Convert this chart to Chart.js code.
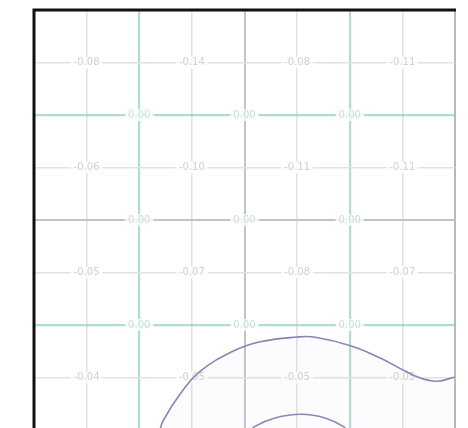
<!DOCTYPE html>
<html>
<head>
<meta charset="utf-8">
<script src="https://cdn.jsdelivr.net/npm/chart.js@4.4.1/dist/chart.umd.min.js"></script>
<style>
  html, body { margin: 0; padding: 0; background: #fff; overflow: hidden; }
  canvas { display: block; }
</style>
</head>
<body>
<canvas id="grid" width="468" height="440"></canvas>
<script>
// grid units along each axis
const xRange = [0, 8];
const yRange = [0, 8];
const tealLines = [2, 6];
const darkLines = [4];

// outer and inner curves (x, y in grid units)
const outerX = [2.38, 2.45, 2.78, 3.16, 3.78, 4.30, 5.00, 5.32, 6.03, 6.58, 6.98, 7.34, 7.66, 8.00];
const outerY = [-0.05, 0.17, 0.69, 1.12, 1.50, 1.68, 1.77, 1.77, 1.60, 1.37, 1.16, 0.99, 0.93, 1.01];
const innerX = [4.10, 4.18, 4.58, 5.08, 5.53, 5.89, 5.96];
const innerY = [-0.05, 0.06, 0.23, 0.30, 0.23, 0.06, -0.05];

// labels sitting on the grid crossings
const oddRows = [7, 5, 3, 1];
const oddCols = [1, 3, 5, 7];
const oddLabels = [
  ['-0.08', '-0.14', '-0.08', '-0.11'],
  ['-0.06', '-0.10', '-0.11', '-0.11'],
  ['-0.05', '-0.07', '-0.08', '-0.07'],
  ['-0.04', '-0.05', '-0.05', '-0.05']
];
const evenRows = [6, 4, 2];
const evenCols = [2, 4, 6];
const evenLabels = [
  ['0.00', '0.00', '0.00'],
  ['0.00', '0.00', '0.00'],
  ['0.00', '0.00', '0.00']
];

const toPoints = (xs, ys) => xs.map((x, i) => ({ x, y: ys[i] }));

function lineColor(v, max) {
  if (tealLines.includes(v)) return 'rgba(130,205,185,0.65)';
  if (darkLines.includes(v)) return '#c4c4c4';
  if (v === max) return '#b8b8b8';
  return '#e2e2e2';
}
function lineWidth(v, max) {
  if (tealLines.includes(v)) return 2.2;
  if (darkLines.includes(v) || v === max) return 2;
  return 1.6;
}

const gridLabels = {
  id: 'gridLabels',
  beforeDatasetsDraw(chart) {
    const { ctx, scales: { x, y } } = chart;
    ctx.save();
    ctx.font = '10px "DejaVu Sans"';
    ctx.textAlign = 'center';
    ctx.textBaseline = 'middle';
    const put = (rows, cols, texts, color) => {
      rows.forEach((r, i) => cols.forEach((c, j) => {
        const px = x.getPixelForValue(c);
        const py = y.getPixelForValue(r);
        const t = texts[i][j];
        const w = ctx.measureText(t).width + 6;
        ctx.fillStyle = 'rgba(255,255,255,0.8)';
        ctx.fillRect(px - w / 2, py - 6, w, 12);
        ctx.fillStyle = color;
        ctx.fillText(t, px, py);
      }));
    };
    put(oddRows, oddCols, oddLabels, '#d0d0d0');
    put(evenRows, evenCols, evenLabels, '#c8ded7');
    ctx.restore();
  }
};

const frame = {
  id: 'frame',
  afterDraw(chart) {
    const { ctx, chartArea: a } = chart;
    ctx.save();
    ctx.strokeStyle = '#111';
    ctx.lineWidth = 3;
    ctx.beginPath();
    ctx.moveTo(a.left, a.bottom + 10);
    ctx.lineTo(a.left, a.top);
    ctx.lineTo(a.right + 1, a.top);
    ctx.stroke();
    ctx.restore();
  }
};

new Chart(document.getElementById('grid'), {
  type: 'scatter',
  data: {
    datasets: [
      {
        data: toPoints(outerX, outerY),
        showLine: true,
        borderColor: '#8d82b4',
        backgroundColor: 'rgba(200,190,235,0.06)',
        fill: 'origin',
        borderWidth: 1.6,
        pointRadius: 0,
        tension: 0.4
      },
      {
        data: toPoints(innerX, innerY),
        showLine: true,
        borderColor: '#8d82b4',
        borderWidth: 1.6,
        pointRadius: 0,
        tension: 0.4
      }
    ]
  },
  options: {
    responsive: false,
    animation: false,
    layout: { padding: { left: 34, top: 10, right: 13, bottom: 10 } },
    plugins: { legend: { display: false }, tooltip: { enabled: false } },
    scales: {
      x: {
        min: xRange[0], max: xRange[1],
        ticks: { display: false, stepSize: 1 },
        border: { display: false },
        grid: {
          drawTicks: false,
          color: c => lineColor(c.tick.value, xRange[1]),
          lineWidth: c => lineWidth(c.tick.value, xRange[1])
        }
      },
      y: {
        min: yRange[0], max: yRange[1],
        ticks: { display: false, stepSize: 1 },
        border: { display: false },
        grid: {
          drawTicks: false,
          color: c => lineColor(c.tick.value, -1),
          lineWidth: c => lineWidth(c.tick.value, -1)
        }
      }
    }
  },
  plugins: [gridLabels, frame]
});
</script>
</body>
</html>
